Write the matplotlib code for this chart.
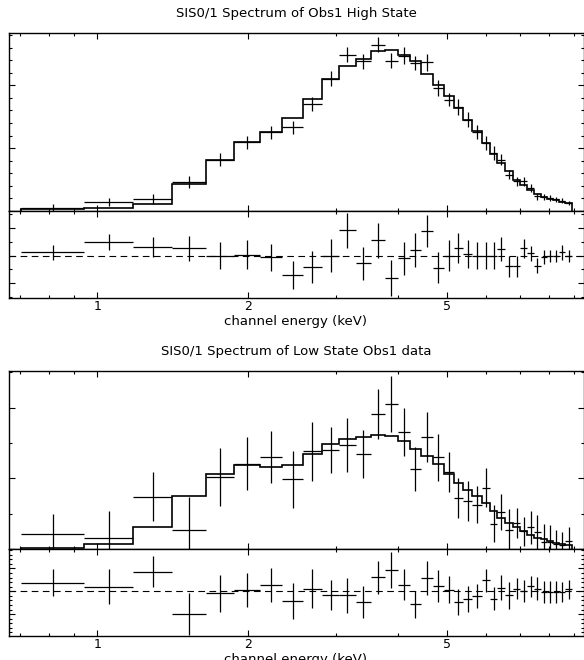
import numpy as np
import matplotlib
matplotlib.use("Agg")
import matplotlib.pyplot as plt
from matplotlib.ticker import FixedLocator, FixedFormatter, MultipleLocator, NullFormatter

W, H = 584, 660

# channel bin edges (keV), shared by both spectra
edges = np.array([0.703, 0.942, 1.181, 1.413, 1.651, 1.880, 2.117, 2.346, 2.578,
                  2.814, 3.047, 3.285, 3.527, 3.767, 3.987, 4.213, 4.446, 4.685,
                  4.928, 5.161, 5.389, 5.626, 5.873, 6.104, 6.313, 6.550, 6.787,
                  7.009, 7.240, 7.487, 7.708, 7.924, 8.146, 8.389, 8.636, 8.907])

# high state
high_rate = [0.0024, 0.0074, 0.0095, 0.0233, 0.0408, 0.0547, 0.0626, 0.0666, 0.0851,
             0.1053, 0.1244, 0.1191, 0.1323, 0.1196, 0.1236, 0.1177, 0.1183, 0.0979,
             0.0886, 0.0827, 0.0727, 0.0628, 0.0541, 0.0461, 0.0408, 0.0289, 0.0236,
             0.0236, 0.0183, 0.0117, 0.0111, 0.0103, 0.0093, 0.0082, 0.0064]
high_err = [0.0028, 0.0032, 0.0040, 0.0048, 0.0050, 0.0052, 0.0050, 0.0050, 0.0056,
            0.0060, 0.0058, 0.0060, 0.0060, 0.0062, 0.0066, 0.0053, 0.0066, 0.0061,
            0.0053, 0.0061, 0.0058, 0.0053, 0.0056, 0.0053, 0.0042, 0.0037, 0.0037,
            0.0034, 0.0029, 0.0029, 0.0027, 0.0024, 0.0021, 0.0021, 0.0019]
high_model = [0.0013, 0.0024, 0.0058, 0.0212, 0.0408, 0.0547, 0.0626, 0.0737, 0.0893,
              0.1053, 0.1151, 0.1207, 0.1270, 0.1278, 0.1244, 0.1191, 0.1090, 0.1000,
              0.0912, 0.0819, 0.0727, 0.0634, 0.0541, 0.0453, 0.0382, 0.0316, 0.0249,
              0.0209, 0.0170, 0.0135, 0.0114, 0.0098, 0.0085, 0.0074, 0.0061]
high_resid = [0.0012, 0.0049, 0.0031, 0.0027, 0.0000, 0.0004, -0.0006, -0.0071, -0.0042,
              0.0000, 0.0092, -0.0028, 0.0055, -0.0081, -0.0010, 0.0021, 0.0088, -0.0043,
              0.0000, 0.0027, 0.0005, 0.0000, 0.0000, 0.0000, 0.0023, -0.0039, -0.0039,
              0.0027, 0.0008, -0.0036, -0.0005, 0.0000, 0.0000, 0.0012, -0.0002]
high_resid_err = [0.0026, 0.0028, 0.0037, 0.0045, 0.0049, 0.0051, 0.0050, 0.0051, 0.0058,
                  0.0059, 0.0063, 0.0061, 0.0063, 0.0064, 0.0061, 0.0061, 0.0058, 0.0057,
                  0.0055, 0.0055, 0.0051, 0.0049, 0.0049, 0.0049, 0.0043, 0.0039, 0.0037,
                  0.0034, 0.0028, 0.0026, 0.0025, 0.0022, 0.0022, 0.0026, 0.0022]

# low state
low_rate = [0.00425, 0.0032, 0.0148, 0.0054, 0.0204, 0.0242, 0.0261, 0.0197, 0.0277,
            0.0280, 0.0295, 0.0270, 0.0382, 0.0410, 0.0331, 0.0226, 0.0317, 0.0260,
            0.0218, 0.0144, 0.0135, 0.0126, 0.0174, 0.0072, 0.0105, 0.0053, 0.0074,
            0.0050, 0.0061, 0.0048, 0.0020, 0.0020, 0.0015, 0.0012, 0.0023]
low_err = [0.0058, 0.0077, 0.0069, 0.0092, 0.0082, 0.0076, 0.0073, 0.0080, 0.0084,
           0.0066, 0.0076, 0.0068, 0.0071, 0.0080, 0.0069, 0.0063, 0.0072, 0.0067,
           0.0058, 0.0057, 0.0057, 0.0052, 0.0054, 0.0052, 0.0052, 0.0061, 0.0042,
           0.0041, 0.0046, 0.0049, 0.0052, 0.0049, 0.0038, 0.0036, 0.0040]
low_model = [0.0004, 0.0015, 0.0063, 0.0150, 0.0213, 0.0237, 0.0231, 0.0239, 0.0270,
             0.0297, 0.0312, 0.0316, 0.0323, 0.0319, 0.0305, 0.0284, 0.0263, 0.0240,
             0.0213, 0.0188, 0.0168, 0.0149, 0.0129, 0.0108, 0.0088, 0.0075, 0.0061,
             0.0050, 0.0041, 0.0032, 0.0027, 0.0022, 0.0017, 0.0013, 0.0010]
low_resid = [0.0038, 0.0019, 0.0086, -0.0098, -0.0009, 0.0007, 0.0029, -0.0041, 0.0012,
             -0.0018, -0.0018, -0.0047, 0.0061, 0.0093, 0.0029, -0.0058, 0.0058, 0.0023,
             0.0007, -0.0047, -0.0032, -0.0020, 0.0048, -0.0032, 0.0016, -0.0018, 0.0012,
             0.0000, 0.0022, 0.0012, -0.0003, -0.0003, -0.0003, -0.0004, 0.0009]
low_resid_err = [0.0058, 0.0077, 0.0069, 0.0092, 0.0082, 0.0074, 0.0074, 0.0079, 0.0085,
                 0.0066, 0.0077, 0.0068, 0.0073, 0.0077, 0.0069, 0.0060, 0.0073, 0.0068,
                 0.0058, 0.0055, 0.0057, 0.0053, 0.0051, 0.0051, 0.0055, 0.0058, 0.0047,
                 0.0049, 0.0046, 0.0051, 0.0047, 0.0047, 0.0047, 0.0044, 0.0042]

XLIM = (0.6656, 9.39)
FONT = 9.5


def px_axes(fig, x0, x1, y0, y1):
    # pixel box (top-left origin) -> figure axes
    return fig.add_axes([x0 / W, 1 - y1 / H, (x1 - x0) / W, (y1 - y0) / H])


def style_x(ax, labels):
    ax.set_xscale("log")
    ax.set_xlim(*XLIM)
    ax.xaxis.set_major_locator(FixedLocator([1, 2, 5]))
    ax.xaxis.set_minor_locator(FixedLocator([0.7, 0.8, 0.9, 3, 4, 6, 7, 8, 9]))
    ax.xaxis.set_minor_formatter(NullFormatter())
    if labels:
        ax.xaxis.set_major_formatter(FixedFormatter(["1", "2", "5"]))
    else:
        ax.xaxis.set_major_formatter(NullFormatter())
    ax.yaxis.set_major_formatter(NullFormatter())
    ax.tick_params(which="both", direction="in", top=True, right=True,
                   labelsize=9, pad=1.5, width=0.8)
    ax.tick_params(which="major", length=4)
    ax.tick_params(which="minor", length=2.2)
    for s in ax.spines.values():
        s.set_linewidth(1.0)


def draw(fig, top, title, rate, err, model, resid, resid_err,
         ylim, ymaj, ymin, rlim, rmaj, rmin):
    lo, hi = edges[:-1], edges[1:]
    cen = np.sqrt(lo * hi)
    xerr = [cen - lo, hi - cen]

    ax = px_axes(fig, 9, 583.5, top, top + 178)
    ax.errorbar(cen, rate, xerr=xerr, yerr=err, fmt="none", ecolor="k",
                elinewidth=0.9, capsize=0)
    ax.stairs(model, edges, color="k", lw=1.2)
    ax.set_ylim(*ylim)
    ax.yaxis.set_major_locator(MultipleLocator(ymaj))
    ax.yaxis.set_minor_locator(MultipleLocator(ymin))
    style_x(ax, False)

    axr = px_axes(fig, 9, 583.5, top + 178, top + 265)
    axr.errorbar(cen, resid, xerr=xerr, yerr=resid_err, fmt="none", ecolor="k",
                 elinewidth=0.9, capsize=0)
    axr.axhline(0, color="k", lw=0.8, ls=(0, (6, 4)))
    axr.set_ylim(*rlim)
    axr.yaxis.set_major_locator(MultipleLocator(rmaj))
    axr.yaxis.set_minor_locator(MultipleLocator(rmin))
    style_x(axr, True)

    fig.text(296 / W, 1 - (top - 19) / H, title, ha="center", va="center",
             fontsize=FONT)
    fig.text(296 / W, 1 - (top + 288) / H, "channel energy (keV)", ha="center",
             va="center", fontsize=FONT)


fig = plt.figure(figsize=(W / 100, H / 100), dpi=100)

draw(fig, 33, "SIS0/1 Spectrum of Obs1 High State",
     high_rate, high_err, high_model, high_resid, high_resid_err,
     (0, 0.1416), 0.05, 0.01, (-0.01536, 0.0162), 0.01, 0.005)

draw(fig, 371, "SIS0/1 Spectrum of Low State Obs1 data",
     low_rate, low_err, low_model, low_resid, low_resid_err,
     (0, 0.0504), 0.02, 0.01, (-0.0196, 0.0185), 0.01, 0.002)

fig.savefig("out.png", dpi=100)
